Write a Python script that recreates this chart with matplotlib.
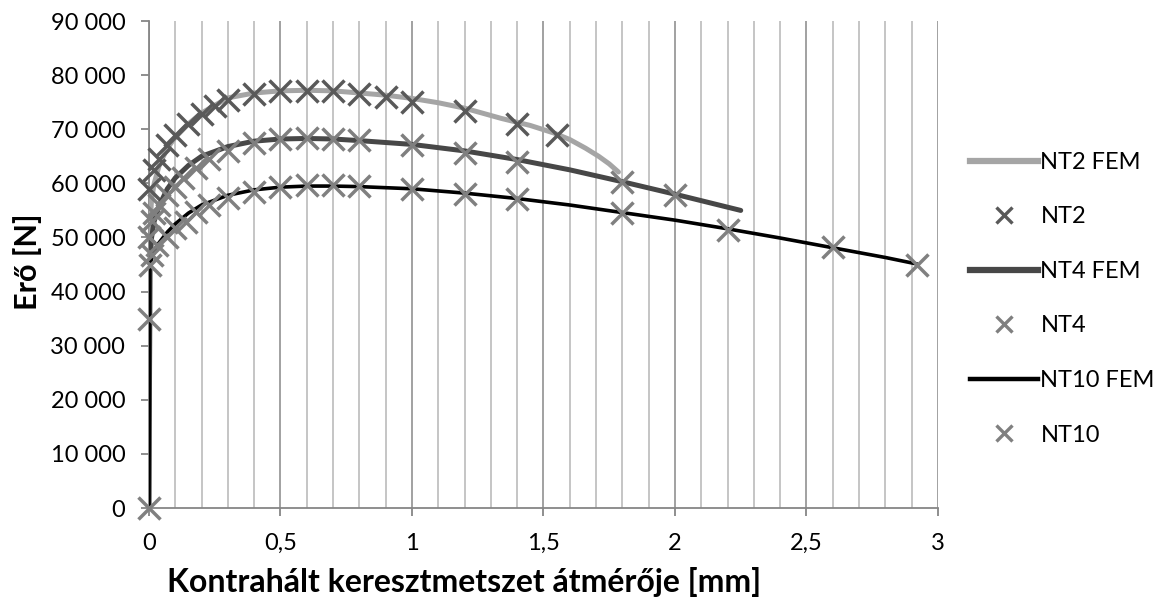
import matplotlib
matplotlib.use('Agg')
import matplotlib.pyplot as plt
from matplotlib.ticker import MultipleLocator, FuncFormatter
from matplotlib.lines import Line2D

plt.rcParams['font.family'] = ['Lato', 'DejaVu Sans']

# measured points
nt2_x = [0, 0.02, 0.04, 0.07, 0.1, 0.15, 0.2, 0.25, 0.3, 0.4, 0.5, 0.6, 0.7, 0.8, 0.9, 1.0, 1.2, 1.4, 1.55]
nt2_y = [59000, 62500, 64500, 67000, 69000, 71000, 72800, 74300, 75400, 76600, 77000, 77100, 77000,
         76500, 75900, 75100, 73300, 71000, 69000]
nt4_x = [0, 0.01, 0.02, 0.04, 0.07, 0.1, 0.13, 0.18, 0.23, 0.3, 0.4, 0.5, 0.6, 0.7, 0.8, 1.0, 1.2, 1.4, 1.8, 2.0]
nt4_y = [50000, 53000, 54500, 56000, 57800, 59300, 61000, 62800, 64500, 66000, 67500, 68200, 68300,
         68200, 68000, 67000, 65600, 64000, 60200, 57900]
nt10_x = [0, 0, 0.005, 0.01, 0.03, 0.07, 0.1, 0.14, 0.18, 0.23, 0.3, 0.4, 0.5, 0.6, 0.7, 0.8, 1.0, 1.2,
          1.4, 1.8, 2.2, 2.6, 2.92]
nt10_y = [0, 35000, 45000, 46800, 48600, 50100, 51700, 52900, 54700, 56000, 57300, 58400, 59300, 59700,
          59700, 59500, 59000, 58000, 57100, 54500, 51400, 48200, 45000]

# FEM curves
fem2_x = [0, 0.004, 0.006, 0.01, 0.02, 0.04, 0.07, 0.1, 0.15, 0.2, 0.3, 0.4, 0.5, 0.6, 0.7, 0.8, 0.9,
          1.0, 1.1, 1.2, 1.34, 1.45, 1.54, 1.6, 1.66, 1.71, 1.75, 1.785]
fem2_y = [0, 50000, 54000, 57000, 60000, 63500, 66500, 68500, 71000, 73000, 75800, 76700, 77100, 77200,
          77100, 76700, 76300, 75700, 74900, 73900, 72000, 70700, 69300, 68100, 66500, 65000, 63600, 62100]
fem4_x = [0, 0.004, 0.01, 0.02, 0.04, 0.07, 0.1, 0.15, 0.2, 0.3, 0.4, 0.5, 0.6, 0.7, 0.8, 1.0, 1.2, 1.4,
          1.6, 1.8, 2.0, 2.1, 2.25]
fem4_y = [0, 45000, 50000, 53000, 56000, 59000, 61000, 63300, 65000, 66800, 67800, 68200, 68300, 68200,
          67900, 67200, 66000, 64400, 62500, 60300, 58000, 56800, 55000]
fem10_x = [0, 0.003, 0.01, 0.03, 0.07, 0.1, 0.15, 0.2, 0.3, 0.4, 0.5, 0.6, 0.7, 0.8, 1.0, 1.2, 1.4, 1.6,
           1.8, 2.0, 2.2, 2.4, 2.6, 2.8, 2.92]
fem10_y = [0, 45000, 46000, 48500, 51000, 52500, 54500, 56000, 57800, 58800, 59300, 59500, 59500, 59400,
           59000, 58200, 57200, 56000, 54600, 53200, 51600, 49900, 48100, 46300, 45100]


def main():
    fig = plt.figure(figsize=(11.6, 6.01), dpi=100)
    ax = fig.add_axes([0.1284, 0.1547, 0.6802, 0.8103])

    ax.plot(fem2_x, fem2_y, color='#a5a5a5', lw=3.6, solid_capstyle='round', zorder=3)
    ax.plot(nt2_x, nt2_y, ls='none', marker='x', ms=16.5, mew=2.5, color='#595959', zorder=4,
            clip_on=False)
    ax.plot(fem4_x, fem4_y, color='#474747', lw=3.6, solid_capstyle='round', zorder=5)
    ax.plot(nt4_x, nt4_y, ls='none', marker='x', ms=16.5, mew=2.5, color='#7f7f7f', zorder=6,
            clip_on=False)
    ax.plot(fem10_x, fem10_y, color='#000000', lw=2.6, solid_capstyle='round', zorder=7)
    ax.plot(nt10_x, nt10_y, ls='none', marker='x', ms=16.5, mew=2.5, color='#808080', zorder=8,
            clip_on=False)

    ax.set_xlim(0, 3)
    ax.set_ylim(0, 90000)
    ax.xaxis.set_major_locator(MultipleLocator(0.5))
    ax.xaxis.set_minor_locator(MultipleLocator(0.1))
    ax.yaxis.set_major_locator(MultipleLocator(10000))
    ax.xaxis.set_major_formatter(FuncFormatter(lambda v, p: ('%g' % v).replace('.', ',')))
    ax.yaxis.set_major_formatter(FuncFormatter(lambda v, p: '{:,.0f}'.format(v).replace(',', ' ')))

    ax.grid(True, axis='x', which='minor', color='#c0c0c0', lw=1.3, zorder=0)
    ax.grid(True, axis='x', which='major', color='#9a9a9a', lw=1.3, zorder=0)
    ax.set_axisbelow(True)
    for s in ['top', 'right']:
        ax.spines[s].set_visible(False)
    for s in ['left', 'bottom']:
        ax.spines[s].set_color('#868686')
        ax.spines[s].set_linewidth(1.3)
    ax.tick_params(axis='both', which='major', direction='out', length=6, width=1.3,
                   color='#868686', labelsize=17)
    ax.tick_params(axis='x', which='major', pad=12)
    ax.tick_params(axis='y', which='major', pad=11)
    ax.tick_params(axis='x', which='minor', length=0)

    ax.set_xlabel('Kontrahált keresztmetszet átmérője [mm]', fontsize=23, fontweight='bold')
    ax.xaxis.set_label_coords(0.399, -0.121)
    ax.set_ylabel('Erő [N]', fontsize=22, fontweight='bold')
    ax.yaxis.set_label_coords(-0.1356, 0.505)

    handles = [
        Line2D([], [], color='#a5a5a5', lw=4.5),
        Line2D([], [], ls='none', marker='x', ms=12, mew=2.4, color='#595959'),
        Line2D([], [], color='#474747', lw=4.5),
        Line2D([], [], ls='none', marker='x', ms=12, mew=2.4, color='#7f7f7f'),
        Line2D([], [], color='#000000', lw=3.2),
        Line2D([], [], ls='none', marker='x', ms=12, mew=2.4, color='#808080'),
    ]
    labels = ['NT2 FEM', 'NT2', 'NT4 FEM', 'NT4', 'NT10 FEM', 'NT10']
    fig.legend(handles, labels, loc='center left', bbox_to_anchor=(0.8175, 0.503), frameon=False,
               fontsize=17, handlelength=2.9, handletextpad=0.1, labelspacing=1.42)

    fig.savefig('out.png', dpi=100)


if __name__ == '__main__':
    main()
